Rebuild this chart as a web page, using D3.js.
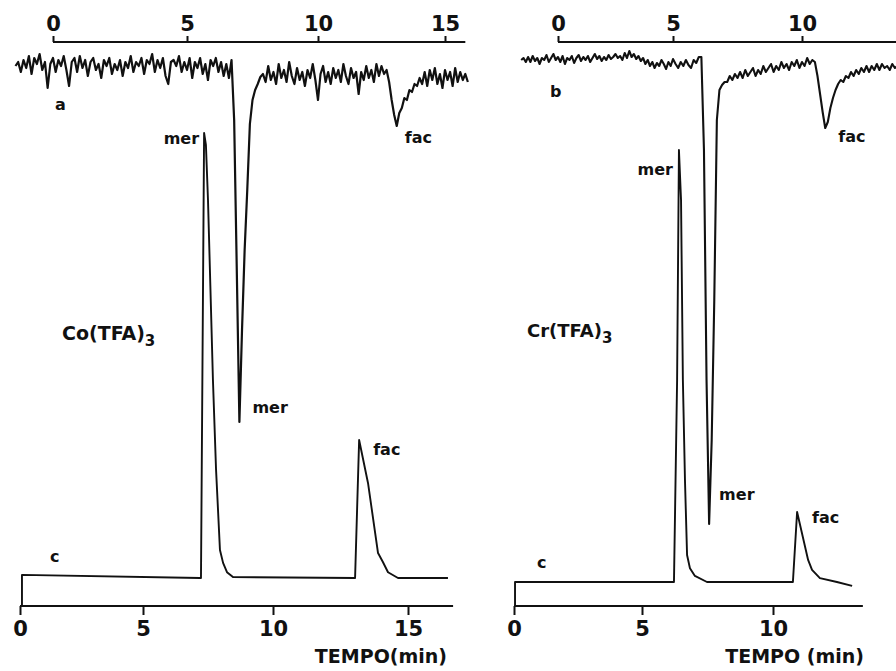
<!DOCTYPE html>
<html>
<head>
<meta charset="utf-8">
<script src="https://cdn.jsdelivr.net/npm/d3@7/dist/d3.min.js"></script>
<style>
  html, body { margin: 0; padding: 0; background: #fff; }
  svg text { font-family: "DejaVu Sans", sans-serif; font-weight: bold; fill: #111; }
</style>
</head>
<body>
<svg id="chart" width="896" height="671"></svg>
<script>
// tick values of the four time axes (min)
const topLeftTicks = [0, 5, 10, 15];
const topRightTicks = [0, 5, 10];
const bottomLeftTicks = [0, 5, 10, 15];
const bottomRightTicks = [0, 5, 10];

// trace a (Co(TFA)3, upper recorder), sampled every 0.1 min from -1.4 min
const aStart = -1.4, aStep = 0.1;
const aValues = [
  1, 3, -2, 4, 0, 6, -3, 5, 2, 7,
  -1, 3, -10, 2, 5, -2, 4, 1, 6, -1,
  -9, 3, 5, -2, 6, 0, 4, -4, 3, 5,
  -1, 2, -5, 4, 1, 5, -3, 2, -1, 4,
  -4, 3, 0, 6, -2, 3, 1, 5, -3, 4,
  2, 7, -2, 4, 0, 5, -4, -8, 3, 4,
  1, 6, -2, 3, -1, 5, -5, 3, 0, 5,
  -3, 2, -6, 4, 1, 5, -2, 3, -4, 2,
  -5, 4,
  -26, -101, -177, -131, -91, -61, -28, -16, -11, -8, -4.5,
  -3, -7, 1, -6, -2, -8, 2, -5, -1, -7,
  3, -4, -8, 0, -6, -2, -9, -1, -5, 2,
  -6, -16, -3, 1, -7, -2, -8, 0, -5, -1,
  -7, 2, -4, -8, 0, -5, -2, -13, -2, -6,
  1, -5, -1, -7, 2, -4, 1, -3,
  -1, -7, -16, -23.5, -29, -22.5, -20, -15, -16, -11, -12, -8, -9, -5,
  -8, -2, -9, -1, -6, 0, -8, -3, -10, -1, -6, -2, -9, 0, -7, -2, -6, -3, -7
];

// trace b (Cr(TFA)3, upper recorder), sampled every 0.1 min from -1.6 min
const bStart = -1.6, bStep = 0.1;
const bValues = [
  0, 1, -1, 1.5, -1, 2, -0.5, 1, -2, 1,
  0, 2.5, -1, 1, 3, 0, 1.5, -1, 2, -2,
  1, 0, 2, -1.5, 1, 2.5, -0.5, 1.5, 0, 2,
  -1, 1, 3, 0.5, 2, -0.5, 1.5, 0, 2.5, 0.5,
  1.5, 3, 1, 2, 0, 3.5, 1, 4.5, 1.5, 3,
  0.5, 2, -0.5, 1, -2, 0, -3, -1, -4, -1.5,
  -3, 0, -2, -4.5, -1, -3, 0.5, -2, -4, -1,
  -3, 0, -2.5, -4, 0, -1.5, 1.5,
  1.5, -45, -160, -232, -190, -120, -30, -15, -12.5, -11,
  -11, -8, -10, -7, -9, -6, -9, -5, -8, -6,
  -4, -8, -5, -7, -3, -6, -4, -2, -6, -3,
  -5, -1, -4, -2, -5, -1, -3, 0, -4, -1,
  -3, 1, -2, 0,
  -1, -8, -17, -26, -34, -31, -24, -19, -15, -12,
  -10, -11, -8, -9, -6, -8, -5, -7, -4, -6,
  -3, -6, -3, -5, -2, -5, -2, -4, -3, -5,
  -2, -4, -3
];

// trace c, Co(TFA)3 (lower recorder)
const cLeftTime = [0.08, 0.08, 7.19, 7.23, 7.35, 7.42, 7.50, 7.69, 7.81, 7.96, 8.08, 8.23, 8.46,
  13.04, 13.19, 13.52, 13.89, 14.07, 14.26, 14.63, 16.48];
const cLeftValues = [-6.3, 0.7, 0, 0, 100, 97.3, 84.9, 44.5, 24.3, 6.3, 3.4, 1.3, 0.2,
  0, 31, 21.3, 5.6, 3.6, 1.3, 0, 0];

// trace c, Cr(TFA)3 (lower recorder)
const cRightTime = [0.04, 0.04, 6.18, 6.22, 6.34, 6.41, 6.49, 6.56, 6.64, 6.72, 6.83, 7.02, 7.48,
  10.76, 10.92, 11.34, 11.49, 11.79, 12.44, 13.02];
const cRightValues = [-5.6, 0, 0, 0, 46.8, 100, 88.4, 46.8, 23.6, 6.25, 3.2, 1.4, 0,
  0, 16.2, 5.1, 2.8, 0.9, 0, -0.9];

const svg = d3.select('#chart');

// hand drawn recorder axes: ticks are not evenly spaced
const xTopL = d3.scaleLinear().domain(topLeftTicks).range([53, 187, 318, 445]);
const xTopR = d3.scaleLinear().domain(topRightTicks).range([558, 673, 802]);
const xBotL = d3.scaleLinear().domain(bottomLeftTicks).range([20, 143, 273, 408]);
const xBotR = d3.scaleLinear().domain(bottomRightTicks).range([514, 642, 773]);

const yA = d3.scaleLinear().domain([0, -180]).range([68, 428]);
const yB = d3.scaleLinear().domain([0, -240]).range([60, 540]);
const yCL = d3.scaleLinear().domain([0, 100]).range([578, 133]);
const yCR = d3.scaleLinear().domain([0, 100]).range([582, 150]);

function timeAxis(scale, ticks, end, y, top) {
  const axis = (top ? d3.axisTop(scale) : d3.axisBottom(scale))
    .tickValues(ticks)
    .tickSize(top ? 6 : 9)
    .tickPadding(top ? 5 : 6)
    .tickFormat(d3.format('d'));
  const g = svg.append('g')
    .attr('transform', `translate(0,${y})`)
    .attr('font-family', null)
    .attr('font-size', null)
    .call(axis);
  g.select('.domain').remove();
  g.append('line')
    .attr('x1', scale(0)).attr('x2', scale(end))
    .attr('stroke', '#111').attr('stroke-width', 2);
  g.selectAll('.tick line').attr('stroke', '#111').attr('stroke-width', 2);
  g.selectAll('.tick text')
    .attr('fill', '#111')
    .style('font-size', top ? '21px' : '21px');
}

timeAxis(xTopL, topLeftTicks, 15.8, 42, true);
timeAxis(xTopR, topRightTicks, 13.7, 42, true);
timeAxis(xBotL, bottomLeftTicks, 16.67, 606, false);
timeAxis(xBotR, bottomRightTicks, 13.43, 606, false);

function trace(points, xs, ys, w) {
  svg.append('path')
    .datum(points)
    .attr('fill', 'none')
    .attr('stroke', '#111')
    .attr('stroke-width', w)
    .attr('stroke-linejoin', 'round')
    .attr('d', d3.line().x(d => xs(d[0])).y(d => ys(d[1])));
}

const aPts = aValues.map((v, i) => [aStart + i * aStep, v]);
const bPts = bValues.map((v, i) => [bStart + i * bStep, v]);
const cLPts = cLeftTime.map((t, i) => [t, cLeftValues[i]]);
const cRPts = cRightTime.map((t, i) => [t, cRightValues[i]]);

trace(aPts, xTopL, yA, 2.2);
trace(bPts, xTopR, yB, 2.1);
trace(cLPts, xBotL, yCL, 1.9);
trace(cRPts, xBotR, yCR, 1.9);

// tip of a peak (sign 1) or dip (sign -1) inside a time window
function tip(pts, t0, t1, sign) {
  const win = pts.filter(d => d[0] >= t0 && d[0] <= t1);
  return sign > 0 ? d3.greatest(win, d => d[1]) : d3.least(win, d => d[1]);
}

function label(txt, x, y, anchor, size) {
  svg.append('text')
    .attr('x', x).attr('y', y)
    .attr('text-anchor', anchor || 'start')
    .style('font-size', (size || 16) + 'px')
    .text(txt);
}

let p;
p = tip(cLPts, 6, 9, 1);   label('mer', xBotL(p[0]) - 5, yCL(p[1]) + 11, 'end');
p = tip(cLPts, 12, 15, 1); label('fac', xBotL(p[0]) + 14, yCL(p[1]) + 15);
p = tip(cRPts, 5, 8, 1);   label('mer', xBotR(p[0]) - 6, yCR(p[1]) + 25, 'end');
p = tip(cRPts, 10, 13, 1); label('fac', xBotR(p[0]) + 15, yCR(p[1]) + 11);
p = tip(aPts, 6, 8, -1);   label('mer', xTopL(p[0]) + 13, yA(p[1]) - 9);
p = tip(aPts, 12, 15, -1); label('fac', xTopL(p[0]) + 8, yA(p[1]) + 17);
p = tip(bPts, 5, 8, -1);   label('mer', xTopR(p[0]) + 10, yB(p[1]) - 24);
p = tip(bPts, 10, 13, -1); label('fac', xTopR(p[0]) + 13, yB(p[1]) + 14);

label('a', 55, 110);
label('b', 550, 97);
label('c', 50, 562);
label('c', 537, 568);

const co = svg.append('text').attr('x', 62).attr('y', 340).style('font-size', '19px').text('Co(TFA)');
co.append('tspan').attr('dy', 6).style('font-size', '15px').text('3');
const cr = svg.append('text').attr('x', 527).attr('y', 337).style('font-size', '18px').text('Cr(TFA)');
cr.append('tspan').attr('dy', 6).style('font-size', '15px').text('3');

label('TEMPO(min)', 447, 663, 'end', 19);
label('TEMPO (min)', 864, 663, 'end', 19);
</script>
</body>
</html>
